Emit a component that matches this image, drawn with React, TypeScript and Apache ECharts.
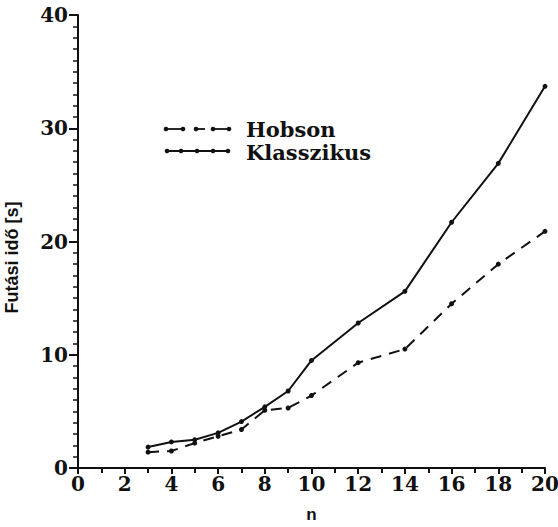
import React, { useEffect, useRef } from "react";
import * as echarts from "echarts";

const nValues = [3, 4, 5, 6, 7, 8, 9, 10, 12, 14, 16, 18, 20];
const hobson = [1.4, 1.5, 2.2, 2.8, 3.4, 5.1, 5.3, 6.4, 9.3, 10.5, 14.5, 18.0, 20.9];
const klasszikus = [1.85, 2.3, 2.5, 3.1, 4.1, 5.4, 6.8, 9.5, 12.8, 15.6, 21.7, 26.9, 33.7];
const seriesNames = ["Hobson", "Klasszikus"];
const xAxisName = "n";
const yAxisName = "Futási idő [s]";

const serif = "'DejaVu Serif', 'Liberation Serif', serif";
const sans = "'Liberation Sans', 'DejaVu Sans', Arial, sans-serif";
const ink = "#111";

function legendGraphics() {
  const els: any[] = [];
  const seg = (x1: number, x2: number, y: number) =>
    els.push({ type: "line", shape: { x1, y1: y, x2, y2: y }, style: { stroke: ink, lineWidth: 1.8 } });
  const dot = (cx: number, cy: number) =>
    els.push({ type: "circle", shape: { cx, cy, r: 2.3 }, style: { fill: ink } });
  // Hobson (dashed with dots)
  const yH = 129;
  seg(165, 184, yH);
  seg(195, 205, yH);
  seg(212, 230, yH);
  [166, 183, 196, 213, 229].forEach((x) => dot(x, yH));
  // Klasszikus (solid with dots)
  const yK = 151;
  seg(165, 230, yK);
  [167, 181, 197, 213, 228].forEach((x) => dot(x, yK));
  const label = (text: string, top: number) =>
    els.push({
      type: "text",
      left: 246,
      top,
      style: { text, fontFamily: serif, fontWeight: "bold", fontSize: 21, lineHeight: 22, fill: ink },
    });
  label(seriesNames[0], 118);
  label(seriesNames[1], 141);
  return els;
}

export default function App() {
  const ref = useRef<HTMLDivElement>(null);
  useEffect(() => {
    if (!ref.current) return;
    const chart = echarts.init(ref.current, undefined, { renderer: "svg" });
    const pair = (ys: number[]) => nValues.map((n, i) => [n, ys[i]]);
    chart.setOption({
      animation: false,
      backgroundColor: "#ffffff",
      grid: { left: 78, right: 13, top: 15, bottom: 59, containLabel: false, outerBoundsMode: "none" },
      graphic: legendGraphics(),
      xAxis: {
        type: "value",
        min: 0,
        max: 20,
        interval: 2,
        name: xAxisName,
        nameLocation: "middle",
        nameGap: 38,
        nameTextStyle: { fontFamily: sans, fontWeight: "bold", fontSize: 17, color: ink },
        axisLine: { show: true, lineStyle: { color: ink, width: 2 } },
        axisTick: { show: true, inside: false, length: 6, lineStyle: { color: ink, width: 2 } },
        minorTick: { show: true, splitNumber: 2, length: 5, lineStyle: { color: ink, width: 2 } },
        splitLine: { show: false },
        axisLabel: {
          fontFamily: serif,
          fontWeight: "bold",
          fontSize: 20,
          color: ink,
          margin: 6,
        },
      },
      yAxis: {
        type: "value",
        min: 0,
        max: 40,
        interval: 10,
        name: yAxisName,
        nameLocation: "middle",
        nameGap: 57,
        nameTextStyle: {
          fontFamily: sans,
          fontWeight: "bold",
          fontSize: 18,
          lineHeight: 18,
          color: ink,
          padding: [0, 32, 0, 0],
        },
        axisLine: { show: true, lineStyle: { color: ink, width: 2 } },
        axisTick: { show: true, inside: false, length: 9, lineStyle: { color: ink, width: 2 } },
        minorTick: { show: true, splitNumber: 10, length: 5, lineStyle: { color: ink, width: 1.5 } },
        splitLine: { show: false },
        axisLabel: {
          fontFamily: serif,
          fontWeight: "bold",
          fontSize: 20,
          color: ink,
          margin: 10,
        },
      },
      series: [
        {
          name: seriesNames[0],
          type: "line",
          data: pair(hobson),
          symbol: "circle",
          symbolSize: 5,
          itemStyle: { color: ink },
          lineStyle: { color: ink, width: 2, type: [11, 8] },
        },
        {
          name: seriesNames[1],
          type: "line",
          data: pair(klasszikus),
          symbol: "circle",
          symbolSize: 5,
          itemStyle: { color: ink },
          lineStyle: { color: ink, width: 2 },
        },
      ],
    });
    return () => chart.dispose();
  }, []);
  return <div ref={ref} style={{ width: 558, height: 527, position: "absolute", left: 0, top: 0 }} />;
}
